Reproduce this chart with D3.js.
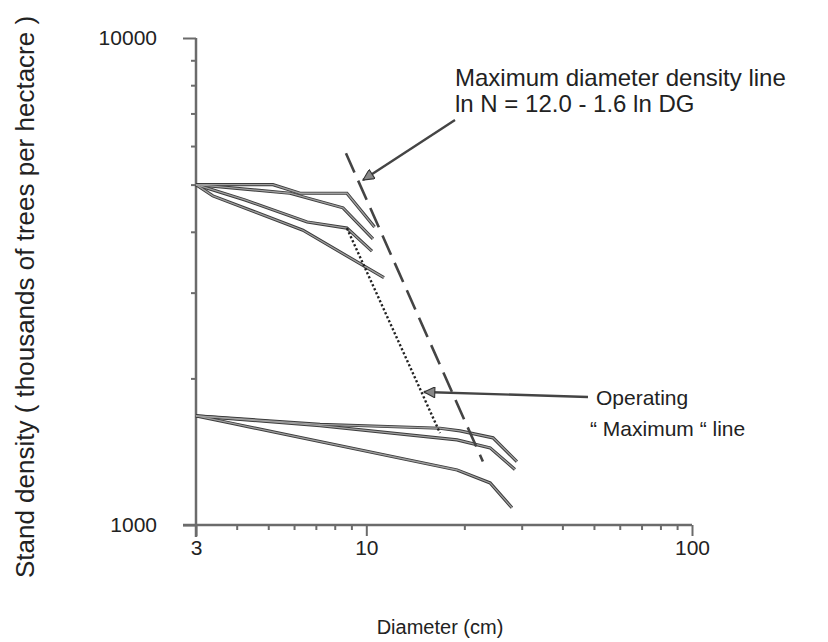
<!DOCTYPE html>
<html>
<head>
<meta charset="utf-8">
<script src="https://cdn.jsdelivr.net/npm/d3@7"></script>
<style>
  body { margin: 0; background: #fff; }
  text { font-family: "Liberation Sans", Arial, sans-serif; fill: #222; }
</style>
</head>
<body>
<div id="chart"></div>
<script>
// stand trajectories, [diameter cm, trees per ha]
let stand1 = [[3,5000],[5.17,5000],[6.26,4800],[8.72,4800],[10.6,4090]]
let stand2 = [[3,5000],[5.83,4800],[8.48,4480],[10.48,3870]]
let stand3 = [[3,5000],[4.24,4650],[6.58,4190],[8.72,4070],[10.41,3650]]
let stand4 = [[3,5000],[3.38,4740],[6.39,4030],[11.33,3220]]
let stand5 = [[3,1675],[7.21,1610],[16.84,1580],[19.4,1560],[24.5,1510],[29.0,1350]]
let stand6 = [[3,1675],[7.21,1600],[19.0,1495],[24.0,1440],[28.6,1300]]
let stand7 = [[3,1675],[3.82,1620],[19.0,1297],[24.0,1220],[28.0,1085]]
let stands = [stand1, stand2, stand3, stand4, stand5, stand6, stand7]

// reference lines
let maxLine = [[8.66,5800],[22.8,1350]]
let operLine = [[8.72,4070],[16.84,1545]]

// ticks
let xMajor = [3,10,100]
let xMinor = [4,5,6,7,8,9,20,30,40,50,60,70,80,90]
let yMajor = [1000,10000]
let yMinor = [2000,3000,4000,5000,6000,7000,8000,9000]

let svg = d3.select("#chart").append("svg")
  .attr("width", 828)
  .attr("height", 642)

let x = d3.scaleLog().domain([3,100]).range([196,692])
let y = d3.scaleLog().domain([1000,10000]).range([525,38])

let line = d3.line().x(d => x(d[0])).y(d => y(d[1]))

// axes
let axisCol = "#6b6b6b"

let xMin = svg.append("g").attr("transform", "translate(0,525)")
  .call(d3.axisBottom(x).tickValues(xMinor).tickSize(5).tickFormat(""))
let xMaj = svg.append("g").attr("transform", "translate(0,525)")
  .call(d3.axisBottom(x).tickValues(xMajor).tickSize(11).tickPadding(4).tickFormat(d3.format("d")))
let yMin = svg.append("g").attr("transform", "translate(196,0)")
  .call(d3.axisLeft(y).tickValues(yMinor).tickSize(5).tickFormat(""))
let yMaj = svg.append("g").attr("transform", "translate(196,0)")
  .call(d3.axisLeft(y).tickValues(yMajor).tickSize(13).tickPadding(26).tickFormat(d3.format("d")))

svg.selectAll(".domain").remove()
svg.selectAll(".tick line").attr("stroke", axisCol).attr("stroke-width", 2)
svg.selectAll(".tick text").style("font-size", "21px").attr("fill", "#222")

svg.append("line").attr("x1", 183).attr("x2", x(100)).attr("y1", 525).attr("y2", 525)
  .attr("stroke", axisCol).attr("stroke-width", 2.5)
svg.append("line").attr("x1", 196).attr("x2", 196).attr("y1", y(10000)).attr("y2", 537)
  .attr("stroke", axisCol).attr("stroke-width", 2.5)

// stand lines: dark edge with grey core
let g = svg.append("g")
g.selectAll(".edge").data(stands).enter().append("path")
  .attr("d", line).attr("fill", "none")
  .attr("stroke", "#3c3c3c").attr("stroke-width", 3.2)
g.selectAll(".core").data(stands).enter().append("path")
  .attr("d", line).attr("fill", "none")
  .attr("stroke", "#a0a0a0").attr("stroke-width", 1.3)

svg.append("path").datum(maxLine).attr("d", line)
  .attr("fill", "none").attr("stroke", "#444").attr("stroke-width", 2.6)
  .attr("stroke-dasharray", "21,9")
svg.append("path").datum(operLine).attr("d", line)
  .attr("fill", "none").attr("stroke", "#222").attr("stroke-width", 2.4)
  .attr("stroke-dasharray", "2.2,2.2")

// arrows
svg.append("defs").append("marker")
  .attr("id", "head").attr("viewBox", "0 0 10 10")
  .attr("refX", 10).attr("refY", 5)
  .attr("markerWidth", 7).attr("markerHeight", 4.5)
  .attr("markerUnits", "strokeWidth").attr("orient", "auto")
  .append("path").attr("d", "M0,0L10,5L0,10z").attr("fill", "#888").attr("stroke", "#333").attr("stroke-width", 1)

svg.append("line").attr("x1", 455).attr("y1", 120).attr("x2", 363).attr("y2", 180)
  .attr("stroke", "#444").attr("stroke-width", 2.4).attr("marker-end", "url(#head)")
svg.append("line").attr("x1", 588).attr("y1", 397).attr("x2", 424).attr("y2", 392)
  .attr("stroke", "#444").attr("stroke-width", 2.4).attr("marker-end", "url(#head)")

// annotation text
svg.append("text").attr("x", 455).attr("y", 86).style("font-size", "24px")
  .text("Maximum diameter density line")
svg.append("text").attr("x", 455).attr("y", 112).style("font-size", "24px")
  .text("ln N = 12.0 - 1.6 ln DG")
svg.append("text").attr("x", 596).attr("y", 405).style("font-size", "21px")
  .text("Operating")
svg.append("text").attr("x", 590).attr("y", 436).style("font-size", "21px")
  .text("\u201C Maximum \u201C line")

// axis titles
svg.append("text").attr("x", 440).attr("y", 634).attr("text-anchor", "middle")
  .style("font-size", "20px").text("Diameter (cm)")
svg.append("text").attr("transform", "translate(34,297) rotate(-90)")
  .attr("text-anchor", "middle").style("font-size", "26px")
  .text("Stand density ( thousands of trees per hectacre )")
</script>
</body>
</html>
